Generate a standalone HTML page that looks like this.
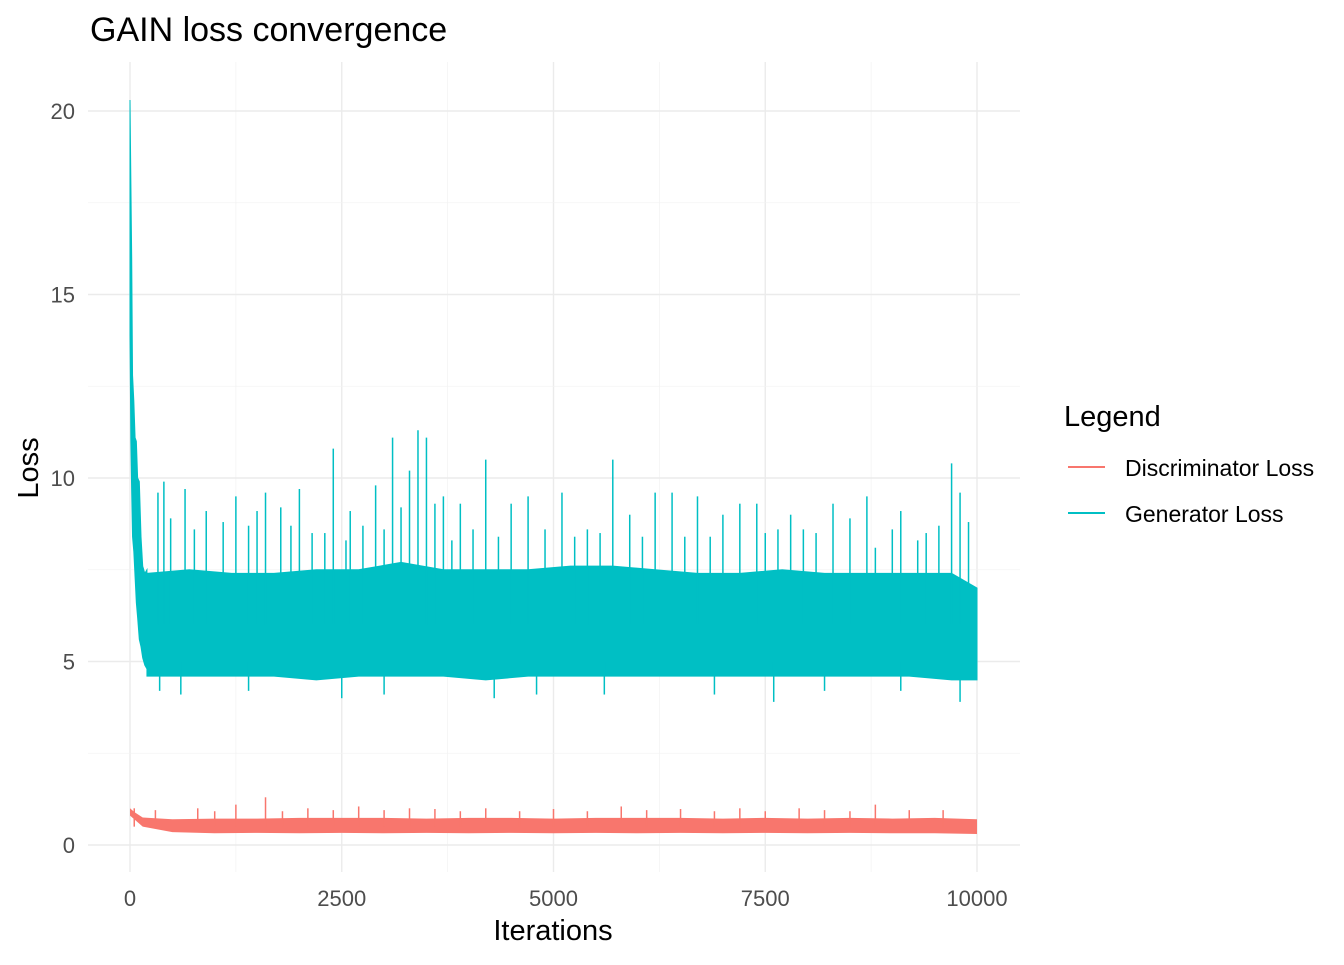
<!DOCTYPE html>
<html><head><meta charset="utf-8"><style>
body{margin:0;background:#fff;font-family:"Liberation Sans",sans-serif}
svg text{font-family:"Liberation Sans",sans-serif}
</style></head><body>
<svg id="c" width="1344" height="960"></svg>
<script>
const xTicks=[0,2500,5000,7500,10000];
const yTicks=[0,5,10,15,20];
// Generator: early decay phase
const genEarlyIter=[0,10,20,30,45,60,75,90,110,130,150,175,200];
const genEarlyHigh=[20.3,18.1,16,12.8,12.1,11.1,11,10,9.9,8.4,7.6,7.4,7.5];
const genEarlyLow=[13.9,11,9.6,8.4,8.0,7.3,6.6,6.2,5.6,5.4,5.1,4.9,4.8];
// Generator: dense band per 500-iteration bin (from 200)
const genBinIter=[200,700,1200,1700,2200,2700,3200,3700,4200,4700,5200,5700,6200,6700,7200,7700,8200,8700,9200,9700,10000];
const genBandLow=[4.6,4.6,4.6,4.6,4.5,4.6,4.6,4.6,4.5,4.6,4.6,4.6,4.6,4.6,4.6,4.6,4.6,4.6,4.6,4.5,4.5];
const genBandHigh=[7.4,7.5,7.4,7.4,7.5,7.5,7.7,7.5,7.5,7.5,7.6,7.6,7.5,7.4,7.4,7.5,7.4,7.4,7.4,7.4,7.0];
// Generator spikes
const genSpikeIter=[330,400,480,650,760,900,1100,1250,1400,1500,1600,1780,1900,2000,2150,2300,2400,2550,2600,2750,2900,3000,3100,3200,3300,3400,3500,3600,3700,3800,3900,4050,4200,4350,4500,4700,4900,5100,5250,5400,5550,5700,5900,6050,6200,6400,6550,6700,6850,7000,7200,7400,7500,7650,7800,7950,8100,8300,8500,8700,8800,9000,9100,9300,9400,9550,9700,9800,9900];
const genSpikeVal=[9.6,9.9,8.9,9.7,8.6,9.1,8.8,9.5,8.7,9.1,9.6,9.2,8.7,9.7,8.5,8.5,10.8,8.3,9.1,8.7,9.8,8.6,11.1,9.2,10.2,11.3,11.1,9.3,9.5,8.3,9.3,8.6,10.5,8.4,9.3,9.5,8.6,9.6,8.4,8.6,8.5,10.5,9.0,8.4,9.6,9.6,8.4,9.5,8.4,9.0,9.3,9.3,8.5,8.6,9.0,8.6,8.5,9.3,8.9,9.5,8.1,8.6,9.1,8.3,8.5,8.7,10.4,9.6,8.8];
const genDipIter=[350,600,1400,2500,3000,4300,4800,5600,6900,7600,8200,9100,9800];
const genDipVal=[4.2,4.1,4.2,4.0,4.1,4.0,4.1,4.1,4.1,3.9,4.2,4.2,3.9];
// Discriminator
const discBinIter=[0,50,150,500,1000,1500,2000,2500,3000,3500,4000,4500,5000,5500,6000,6500,7000,7500,8000,8500,9000,9500,10000];
const discLow=[0.8,0.7,0.5,0.35,0.32,0.33,0.32,0.33,0.32,0.33,0.32,0.33,0.32,0.33,0.32,0.33,0.32,0.33,0.32,0.33,0.32,0.32,0.3];
const discHigh=[1.0,0.9,0.75,0.7,0.72,0.72,0.74,0.74,0.74,0.72,0.74,0.74,0.72,0.74,0.74,0.74,0.72,0.74,0.72,0.74,0.72,0.74,0.7];
const discSpikeIter=[50,300,800,1000,1250,1600,1800,2100,2400,2700,3000,3300,3600,3900,4200,4600,5000,5400,5800,6100,6500,6900,7200,7500,7900,8200,8500,8800,9200,9600];
const discSpikeVal=[1.0,0.95,1.0,0.92,1.1,1.3,0.92,1.0,0.95,1.05,0.95,1.0,0.98,0.92,1.0,0.92,0.98,0.92,1.05,0.95,0.98,0.92,1.0,0.92,1.0,0.95,0.92,1.1,0.95,0.95];

const svg=document.getElementById('c');const NS='http://www.w3.org/2000/svg';
const X=v=>130+v*(977-130)/10000, Y=v=>845-v*(845-111)/20;
function mk(t,a,p){const e=document.createElementNS(NS,t);for(const k in a)e.setAttribute(k,a[k]);(p||svg).appendChild(e);return e;}
const grid=mk('g',{});
for(let i=0;i<xTicks.length;i++){const v=xTicks[i];mk('line',{x1:X(v),x2:X(v),y1:62,y2:872,stroke:'#ebebeb','stroke-width':1.4},grid);
 if(i<xTicks.length-1){const m=(v+xTicks[i+1])/2;mk('line',{x1:X(m),x2:X(m),y1:62,y2:872,stroke:'#f3f3f3','stroke-width':0.8},grid);}}
for(let i=0;i<yTicks.length;i++){const v=yTicks[i];mk('line',{x1:88,x2:1020,y1:Y(v),y2:Y(v),stroke:'#ebebeb','stroke-width':1.4},grid);
 if(i<yTicks.length-1){const m=(v+yTicks[i+1])/2;mk('line',{x1:88,x2:1020,y1:Y(m),y2:Y(m),stroke:'#f3f3f3','stroke-width':0.8},grid);}}
const GC='#00bfc4',DC='#f8766d';
let dp=[];for(let i=0;i<discBinIter.length;i++)dp.push(X(discBinIter[i])+','+Y(discHigh[i]));
for(let i=discBinIter.length-1;i>=0;i--)dp.push(X(discBinIter[i])+','+Y(discLow[i]));
const db=mk('polygon',{points:dp.join(' '),fill:DC});
for(let i=0;i<discSpikeIter.length;i++){const l=mk('line',{x1:X(discSpikeIter[i]),x2:X(discSpikeIter[i]),y1:Y(0.5),y2:Y(discSpikeVal[i]),stroke:DC,'stroke-width':1.5});
 }
let gp=[];for(let i=0;i<genEarlyIter.length;i++)gp.push(X(genEarlyIter[i])+','+Y(genEarlyHigh[i]));
for(let i=0;i<genBinIter.length;i++)gp.push(X(genBinIter[i])+','+Y(genBandHigh[i]));
for(let i=genBinIter.length-1;i>=0;i--)gp.push(X(genBinIter[i])+','+Y(genBandLow[i]));
for(let i=genEarlyIter.length-1;i>=0;i--)gp.push(X(genEarlyIter[i])+','+Y(genEarlyLow[i]));
const gb=mk('polygon',{points:gp.join(' '),fill:GC,stroke:GC,'stroke-width':1});
for(let i=0;i<genSpikeIter.length;i++){const l=mk('line',{x1:X(genSpikeIter[i]),x2:X(genSpikeIter[i]),y1:Y(6),y2:Y(genSpikeVal[i]),stroke:GC,'stroke-width':1.5});
 }
for(let i=0;i<genDipIter.length;i++){const l=mk('line',{x1:X(genDipIter[i]),x2:X(genDipIter[i]),y1:Y(5),y2:Y(genDipVal[i]),stroke:GC,'stroke-width':1.5});
 }
for(const v of xTicks){const t=mk('text',{x:X(v),y:906,'text-anchor':'middle','font-size':22,fill:'#4d4d4d'});t.textContent=v;
 }
for(const v of yTicks){const t=mk('text',{x:75,y:Y(v)+8,'text-anchor':'end','font-size':22,fill:'#4d4d4d'});t.textContent=v;
 }
</script>
<svg width="1344" height="960" style="position:absolute;left:0;top:0">
<text x="90" y="41" font-size="34" fill="#000">GAIN loss convergence</text>
<text x="553" y="940" font-size="29" text-anchor="middle" fill="#000">Iterations</text>
<text transform="translate(38,468) rotate(-90)" font-size="29" text-anchor="middle" fill="#000">Loss</text>
<text x="1064" y="426" font-size="29" fill="#000">Legend</text>
<g>
<line x1="1068" x2="1105" y1="467" y2="467" stroke="#f8766d" stroke-width="2"/>
<text x="1125" y="476" font-size="23" fill="#000">Discriminator Loss</text></g>
<g>
<line x1="1068" x2="1105" y1="513" y2="513" stroke="#00bfc4" stroke-width="2"/>
<text x="1125" y="522" font-size="23" fill="#000">Generator Loss</text></g>
</svg>
</body></html>
